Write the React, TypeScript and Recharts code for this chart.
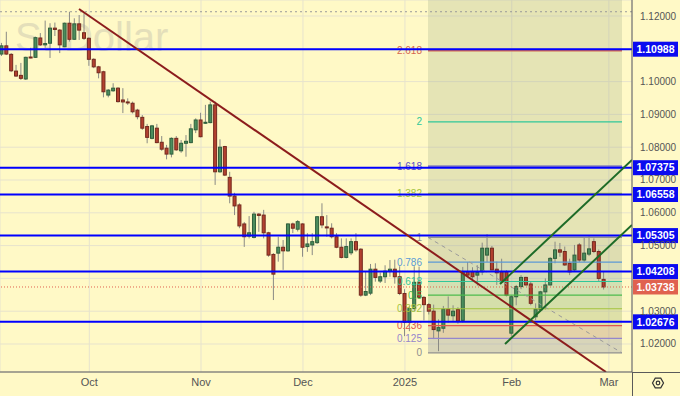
import React from 'react';
import { ComposedChart, Bar, XAxis, YAxis, CartesianGrid, ReferenceLine, ReferenceArea } from 'recharts';

// Bar index 0 = 1 Oct 2024 (daily bars, first bar = index -18)
const firstIndex = -18;
const opens = [
  1.1084, 1.1109, 1.1083, 1.1032, 1.1019, 1.1008, 1.1075, 1.1074, 1.1133, 1.1112, 1.1117, 1.1163, 1.1157, 1.1106, 1.1178, 1.1129, 1.1176, 1.1149,
  1.1132, 1.1068, 1.1045, 1.1030, 1.0959, 1.0972, 1.0980, 1.0944, 1.0938, 1.0934, 1.0913, 1.0891, 1.0863, 1.0827, 1.0858, 1.0815, 1.0797, 1.0779,
  1.0827, 1.0789, 1.0812, 1.0814, 1.0853, 1.0883, 1.0875, 1.0875, 1.0929, 1.0725, 1.0802, 1.0708, 1.0651, 1.0624, 1.0566, 1.0529, 1.0525, 1.0596,
  1.0593, 1.0539, 1.0473, 1.0477, 1.0495, 1.0484, 1.0566, 1.0550, 1.0566, 1.0497, 1.0502, 1.0509, 1.0588, 1.0557, 1.0553, 1.0527, 1.0495, 1.0464,
  1.0478, 1.0512, 1.0489, 1.0349, 1.0355, 1.0428, 1.0392, 1.0405, 1.0422, 1.0428, 1.0405, 1.0354, 1.0266, 1.0308, 1.0388, 1.0342, 1.0320, 1.0300,
  1.0240, 1.0248, 1.0306, 1.0286, 1.0305, 1.0272, 1.0420, 1.0420, 1.0410, 1.0420, 1.0471, 1.0492, 1.0428, 1.0420, 1.0420, 1.0233, 1.0344, 1.0375,
  1.0403, 1.0383, 1.0283, 1.0304, 1.0359, 1.0380, 1.0461, 1.0487, 1.0482, 1.0446, 1.0426, 1.0502, 1.0456, 1.0474, 1.0512, 1.0482, 1.0397,
];
const highs = [
  1.1118, 1.1152, 1.1087, 1.1051, 1.1057, 1.1076, 1.1103, 1.1137, 1.1148, 1.1186, 1.1178, 1.1180, 1.1160, 1.1180, 1.1213, 1.1193, 1.1203, 1.1208,
  1.1135, 1.1071, 1.1048, 1.1033, 1.0977, 1.0995, 1.0983, 1.0980, 1.0949, 1.0939, 1.0917, 1.0898, 1.0871, 1.0868, 1.0871, 1.0834, 1.0807, 1.0830,
  1.0834, 1.0822, 1.0837, 1.0871, 1.0888, 1.0905, 1.0929, 1.0939, 1.0939, 1.0824, 1.0804, 1.0725, 1.0661, 1.0629, 1.0572, 1.0590, 1.0603, 1.0599,
  1.0609, 1.0542, 1.0477, 1.0527, 1.0517, 1.0568, 1.0570, 1.0578, 1.0568, 1.0538, 1.0538, 1.0590, 1.0629, 1.0593, 1.0568, 1.0538, 1.0522, 1.0522,
  1.0522, 1.0538, 1.0492, 1.0420, 1.0444, 1.0446, 1.0418, 1.0440, 1.0456, 1.0457, 1.0437, 1.0367, 1.0315, 1.0437, 1.0436, 1.0346, 1.0325, 1.0320,
  1.0275, 1.0316, 1.0345, 1.0318, 1.0312, 1.0435, 1.0450, 1.0434, 1.0440, 1.0509, 1.0535, 1.0499, 1.0451, 1.0460, 1.0425, 1.0349, 1.0380, 1.0410,
  1.0405, 1.0389, 1.0324, 1.0362, 1.0400, 1.0465, 1.0512, 1.0508, 1.0497, 1.0460, 1.0502, 1.0508, 1.0526, 1.0528, 1.0522, 1.0488, 1.0420,
];
const lows = [
  1.1078, 1.1081, 1.1029, 1.1014, 1.1005, 1.1005, 1.1071, 1.1072, 1.1109, 1.1103, 1.1072, 1.1139, 1.1087, 1.1105, 1.1122, 1.1127, 1.1127, 1.1127,
  1.1048, 1.1041, 1.1010, 1.0952, 1.0952, 1.0969, 1.0936, 1.0904, 1.0929, 1.0903, 1.0885, 1.0853, 1.0812, 1.0824, 1.0812, 1.0789, 1.0763, 1.0769,
  1.0789, 1.0783, 1.0771, 1.0812, 1.0843, 1.0830, 1.0871, 1.0873, 1.0685, 1.0722, 1.0712, 1.0629, 1.0593, 1.0553, 1.0496, 1.0522, 1.0522, 1.0542,
  1.0522, 1.0466, 1.0334, 1.0451, 1.0426, 1.0481, 1.0538, 1.0543, 1.0466, 1.0481, 1.0471, 1.0505, 1.0553, 1.0527, 1.0522, 1.0492, 1.0461, 1.0461,
  1.0471, 1.0481, 1.0344, 1.0346, 1.0349, 1.0390, 1.0386, 1.0386, 1.0405, 1.0384, 1.0349, 1.0224, 1.0239, 1.0300, 1.0340, 1.0272, 1.0290, 1.0215,
  1.0178, 1.0234, 1.0265, 1.0268, 1.0262, 1.0265, 1.0405, 1.0390, 1.0378, 1.0410, 1.0450, 1.0425, 1.0380, 1.0387, 1.0345, 1.0225, 1.0318, 1.0367,
  1.0378, 1.0318, 1.0273, 1.0300, 1.0305, 1.0378, 1.0446, 1.0466, 1.0438, 1.0410, 1.0420, 1.0450, 1.0450, 1.0468, 1.0477, 1.0391, 1.0366,
];
const closes = [
  1.1109, 1.1084, 1.1033, 1.1017, 1.1010, 1.1074, 1.1072, 1.1134, 1.1112, 1.1116, 1.1163, 1.1159, 1.1112, 1.1178, 1.1129, 1.1176, 1.1157, 1.1132,
  1.1068, 1.1045, 1.1027, 1.0969, 1.0974, 1.0980, 1.0939, 1.0938, 1.0936, 1.0908, 1.0893, 1.0858, 1.0830, 1.0865, 1.0814, 1.0794, 1.0779, 1.0827,
  1.0792, 1.0812, 1.0818, 1.0856, 1.0883, 1.0832, 1.0876, 1.0929, 1.0725, 1.0800, 1.0715, 1.0651, 1.0621, 1.0560, 1.0527, 1.0539, 1.0596, 1.0592,
  1.0539, 1.0471, 1.0413, 1.0495, 1.0484, 1.0566, 1.0553, 1.0573, 1.0495, 1.0505, 1.0512, 1.0588, 1.0563, 1.0555, 1.0527, 1.0495, 1.0464, 1.0497,
  1.0512, 1.0487, 1.0349, 1.0360, 1.0428, 1.0403, 1.0405, 1.0422, 1.0428, 1.0405, 1.0354, 1.0266, 1.0308, 1.0388, 1.0342, 1.0320, 1.0300, 1.0244,
  1.0250, 1.0306, 1.0288, 1.0300, 1.0270, 1.0420, 1.0410, 1.0405, 1.0418, 1.0492, 1.0492, 1.0426, 1.0417, 1.0390, 1.0349, 1.0344, 1.0375, 1.0403,
  1.0380, 1.0324, 1.0306, 1.0359, 1.0380, 1.0461, 1.0487, 1.0480, 1.0441, 1.0420, 1.0471, 1.0456, 1.0477, 1.0490, 1.0482, 1.0400, 1.0374,
];

const monthTickIndex = [0, 23, 44, 65, 87, 107];
const monthTickLabels = ['Oct', 'Nov', 'Dec', '2025', 'Feb', 'Mar'];
const priceTicks = [1.02, 1.03, 1.04, 1.05, 1.06, 1.07, 1.08, 1.09, 1.1, 1.11, 1.12];
const hiddenPriceTicks = [1.04, 1.11];

const levelPrices = [1.10988, 1.07375, 1.06558, 1.05305, 1.04208, 1.02676];
const lastPrice = 1.03738;
const rangeHigh = 1.1213;

const fibZero = 1.0173;
const fibOne = 1.0525;
const fibRatios = [0, 0.125, 0.236, 0.382, 0.5, 0.618, 0.786, 1, 1.382, 1.618, 2, 2.618];
const fibLabels = ['0', '0.125', '0.236', '0.382', '0.5', '0.618', '0.786', '1', '1.382', '1.618', '2', '2.618'];
const fibColors = ['#8f8f8f', '#9586cc', '#e0564e', '#a3c33e', '#4cbb4c', '#2fc79a', '#5b9ad6', '#8f8f8f', '#a3c33e', '#5a52c4', '#2fc79a', '#d4664e'];
const fibStartIndex = 69.75;
const fibEndIndex = 109.7;

const downTrend = [{ x: -2.12, y: 1.12214 }, { x: 106.4, y: 1.01146 }];
const channelUpper = [{ x: 84.58, y: 1.03829 }, { x: 111.76, y: 1.0761 }];
const channelLower = [{ x: 85.61, y: 1.02 }, { x: 111.76, y: 1.05628 }];

const xDomain = [-18.39, 111.76];
const yDomain = [1.01146, 1.12488];

const data = opens.map((o, k) => ({
  i: firstIndex + k,
  o,
  h: highs[k],
  l: lows[k],
  c: closes[k],
  range: [lows[k], highs[k]],
}));

const fibPrice = (r: number) => fibZero + (fibOne - fibZero) * r;

const Candle = (props: any) => {
  const { x, y, width, height, payload } = props;
  if (!payload || height == null) return null;
  const { o, h, l, c } = payload;
  const k = h === l ? 0 : height / (h - l);
  const yO = y + (h - o) * k;
  const yC = y + (h - c) * k;
  const up = c >= o;
  const top = Math.min(yO, yC);
  const bh = Math.max(1, Math.abs(yC - yO));
  const cx = x + width / 2;
  return (
    <g>
      <line x1={cx} x2={cx} y1={y} y2={y + height} stroke="#8a8a84" strokeWidth={1} />
      <rect x={x + 0.5} y={top} width={width - 1} height={bh} fill={up ? '#4b8d5d' : '#b3412f'} stroke={up ? '#2f5f3c' : '#74291e'} strokeWidth={1} />
    </g>
  );
};

const priceBox = (value: number, color: string) => (props: any) => {
  const vb = props.viewBox || {};
  const bx = vb.x + vb.width + 1;
  const by = vb.y;
  return (
    <g>
      <rect x={bx} y={by - 7.5} width={45} height={15} fill={color} />
      <text x={bx + 22.5} y={by + 3.8} textAnchor="middle" fill="#ffffff" fontSize={10.5} fontWeight="bold">
        {value.toFixed(5)}
      </text>
    </g>
  );
};

const fibLabel = (text: string, color: string) => (props: any) => {
  const vb = props.viewBox || {};
  return (
    <text x={vb.x - 6} y={vb.y + 3.5} textAnchor="end" fill={color} fontSize={10}>
      {text}
    </text>
  );
};

const PriceTick = (props: any) => {
  const { x, y, payload } = props;
  if (hiddenPriceTicks.some((v) => Math.abs(v - payload.value) < 1e-6)) return null;
  return (
    <text x={x} y={y + 3.5} textAnchor="start" fill="#555" fontSize={10}>
      {Number(payload.value).toFixed(5)}
    </text>
  );
};

const bandOpacity = [0.16, 0.12, 0.1, 0.1, 0.1, 0.1, 0.08];

export default function App() {
  return (
    <div style={{ position: 'absolute', left: 0, top: 0, width: 680, height: 396, background: '#fff9c6', fontFamily: '"Liberation Sans", Arial, sans-serif', overflow: 'hidden' }}>
      <div style={{ position: 'absolute', left: 15, top: 13, fontSize: 40, color: '#e4dfba', fontFamily: '"Liberation Sans", Arial, sans-serif', whiteSpace: 'nowrap', lineHeight: '48px' }}>
        S. Dollar
      </div>
      <div style={{ position: 'absolute', left: 0, top: 0 }}>
        <ComposedChart width={680} height={396} data={data} margin={{ top: 0, right: 0, bottom: 0, left: 0 }}>
          <CartesianGrid stroke="#e7e3cd" strokeWidth={1} />
          <XAxis
            type="number"
            dataKey="i"
            domain={xDomain}
            allowDataOverflow
            ticks={monthTickIndex}
            tickFormatter={(v: number) => monthTickLabels[monthTickIndex.indexOf(v)] ?? ''}
            height={24}
            tickLine={false}
            tickSize={0}
            tickMargin={6}
            axisLine={{ stroke: '#5a5a5a' }}
            tick={{ fill: '#555', fontSize: 11 }}
          />
          <YAxis
            type="number"
            orientation="right"
            domain={yDomain}
            allowDataOverflow
            ticks={priceTicks}
            width={48}
            tickLine={false}
            tickSize={0}
            tickMargin={8}
            axisLine={{ stroke: '#5a5a5a' }}
            tick={<PriceTick />}
          />
          <ReferenceArea x1={fibStartIndex} x2={fibEndIndex} y1={fibZero} y2={yDomain[1]} fill="#a9b48f" fillOpacity={0.3} stroke="none" ifOverflow="hidden" />
          {fibRatios.slice(0, 7).map((r, k) => (
            <ReferenceArea key={'band' + k} x1={fibStartIndex} x2={fibEndIndex} y1={fibPrice(r)} y2={fibPrice(fibRatios[k + 1])} fill={fibColors[k + 1]} fillOpacity={bandOpacity[k]} stroke="none" />
          ))}
          <ReferenceLine y={rangeHigh} stroke="#9a9a9a" strokeDasharray="2 3" />
          {fibRatios.map((r, k) => (
            <ReferenceLine
              key={'fib' + k}
              segment={[{ x: fibStartIndex, y: fibPrice(r) }, { x: fibEndIndex, y: fibPrice(r) }]}
              stroke={fibColors[k]}
              strokeWidth={r === 2.618 ? 2 : 1.2}
              label={fibLabel(fibLabels[k], fibColors[k])}
            />
          ))}
          <ReferenceLine
            segment={[{ x: fibStartIndex, y: fibOne }, { x: fibEndIndex, y: fibZero }]}
            stroke="#9a9a9a"
            strokeDasharray="4 4"
          />
          <Bar dataKey="range" barSize={4} shape={<Candle />} isAnimationActive={false} />
          <ReferenceLine y={lastPrice} stroke="#e0624f" strokeDasharray="1 2" label={priceBox(lastPrice, '#e0624f')} />
          {levelPrices.map((p) => (
            <ReferenceLine key={'lvl' + p} y={p} stroke="#0000ff" strokeWidth={2} label={priceBox(p, '#0a0af0')} />
          ))}
          <ReferenceLine segment={downTrend} stroke="#8c1c1c" strokeWidth={2} ifOverflow="hidden" />
          <ReferenceLine segment={channelUpper} stroke="#1d6b27" strokeWidth={2} ifOverflow="hidden" />
          <ReferenceLine segment={channelLower} stroke="#1d6b27" strokeWidth={2} ifOverflow="hidden" />
        </ComposedChart>
      </div>
      <svg style={{ position: 'absolute', left: 0, top: 0, pointerEvents: 'none' }} width={680} height={396}>
        <line x1={632.5} x2={632.5} y1={372} y2={396} stroke="#5a5a5a" />
        <line x1={632} x2={680} y1={372.5} y2={372.5} stroke="#5a5a5a" />
        <polygon points="652.5,383 655.25,378.2 660.75,378.2 663.5,383 660.75,387.8 655.25,387.8" fill="none" stroke="#333" strokeWidth={1.2} />
        <circle cx={658} cy={383} r={1.8} fill="none" stroke="#333" strokeWidth={1.2} />
      </svg>
    </div>
  );
}
